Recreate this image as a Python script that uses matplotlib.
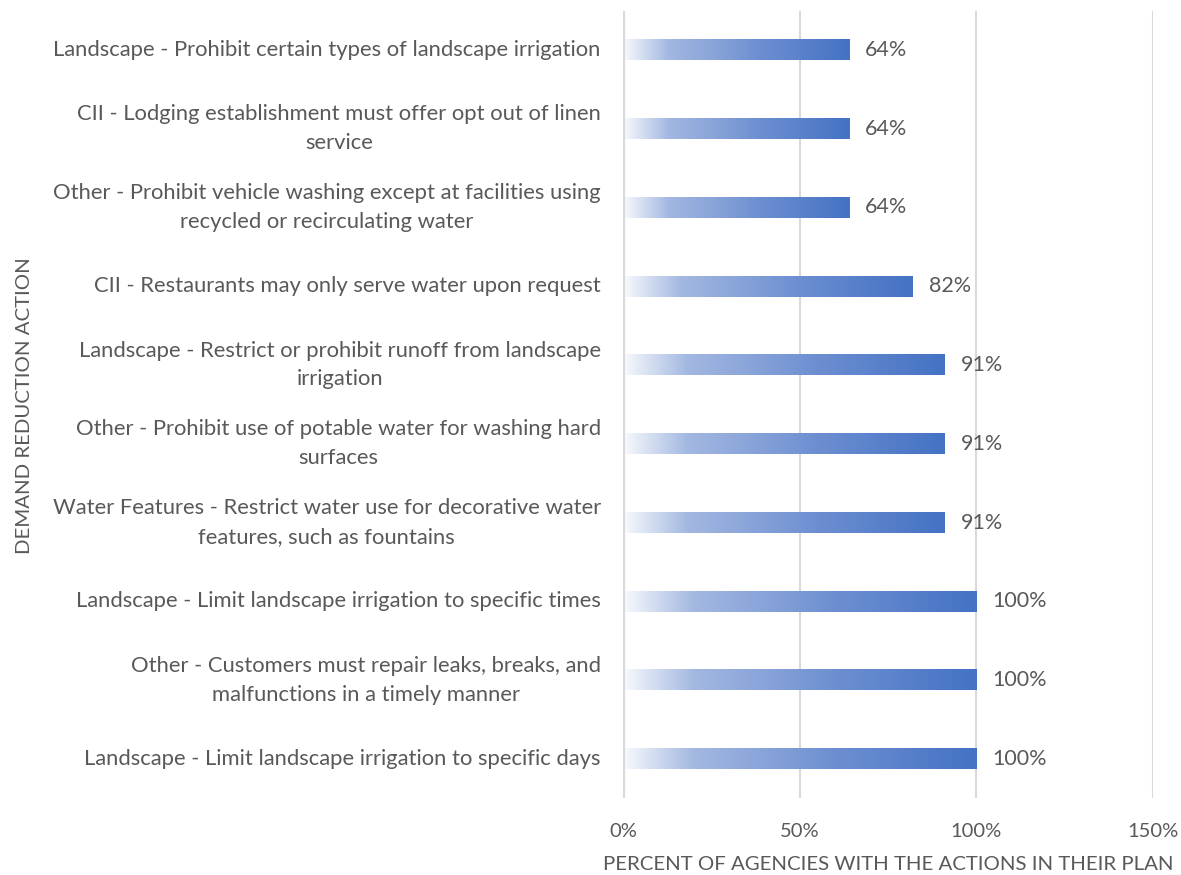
import numpy as np
import matplotlib
matplotlib.use('Agg')
import matplotlib.pyplot as plt
from matplotlib.colors import LinearSegmentedColormap
from matplotlib.ticker import FuncFormatter

plt.rcParams['font.family'] = ['Lato', 'DejaVu Sans']

# Actions from bottom to top, with share of agencies that include them
actions = [
    "Landscape - Limit landscape irrigation to specific days",
    "Other - Customers must repair leaks, breaks, and\nmalfunctions in a timely manner",
    "Landscape - Limit landscape irrigation to specific times",
    "Water Features - Restrict water use for decorative water\nfeatures, such as fountains",
    "Other - Prohibit use of potable water for washing hard\nsurfaces",
    "Landscape - Restrict or prohibit runoff from landscape\nirrigation",
    "CII - Restaurants may only serve water upon request",
    "Other - Prohibit vehicle washing except at facilities using\nrecycled or recirculating water",
    "CII - Lodging establishment must offer opt out of linen\nservice",
    "Landscape - Prohibit certain types of landscape irrigation",
]
percents = [100, 100, 100, 91, 91, 91, 82, 64, 64, 64]
x_ticks = [0, 50, 100, 150]

text_color = '#595959'
grid_color = '#D9D9D9'
bar_height = 0.26

# Gradient fill: pale at the start, full blue at the end of each bar
grad = LinearSegmentedColormap.from_list(
    'bar_grad', [(0.0, '#F8FAFD'), (0.2, '#A3B8E1'), (0.6, '#6D8FD1'), (1.0, '#4472C4')])

fig = plt.figure(figsize=(11.81, 8.75), dpi=100)
ax = fig.add_axes([0.5275, 0.0875, 0.4488, 0.9005])

ramp = np.linspace(0, 1, 256).reshape(1, -1)
for i, val in enumerate(percents):
    ax.imshow(ramp, cmap=grad, aspect='auto', interpolation='bilinear',
              extent=[0, val, i - bar_height / 2, i + bar_height / 2], zorder=2)
    ax.text(val + 4.5, i, f"{val}%", va='center', ha='left',
            fontsize=15.5, color=text_color)

ax.set_xlim(0, 150)
ax.set_ylim(-0.5, len(actions) - 0.5)

# grid and axis line
for x in x_ticks[1:]:
    ax.axvline(x, color=grid_color, linewidth=1.5, zorder=1)
ax.axvline(0, color=grid_color, linewidth=3, zorder=3)
for s in ax.spines.values():
    s.set_visible(False)

ax.set_yticks(range(len(actions)))
ax.set_yticklabels(actions, fontsize=15.8, color=text_color, linespacing=1.55)
for lbl in ax.get_yticklabels():
    lbl.set_multialignment('center')
    lbl.set_va('center')
ax.set_xticks(x_ticks)
ax.xaxis.set_major_formatter(FuncFormatter(lambda v, p: f"{v:.0f}%"))
ax.tick_params(axis='x', labelsize=14.5, labelcolor=text_color, length=0, pad=18)
ax.tick_params(axis='y', length=0, pad=16)

ax.set_xlabel("PERCENT OF AGENCIES WITH THE ACTIONS IN THEIR PLAN",
              fontsize=14.7, color=text_color, labelpad=11)
fig.text(0.021, 0.537, "DEMAND REDUCTION ACTION", rotation=90, va='center',
         ha='center', fontsize=14.7, color=text_color)

fig.savefig('out.png', dpi=100)
